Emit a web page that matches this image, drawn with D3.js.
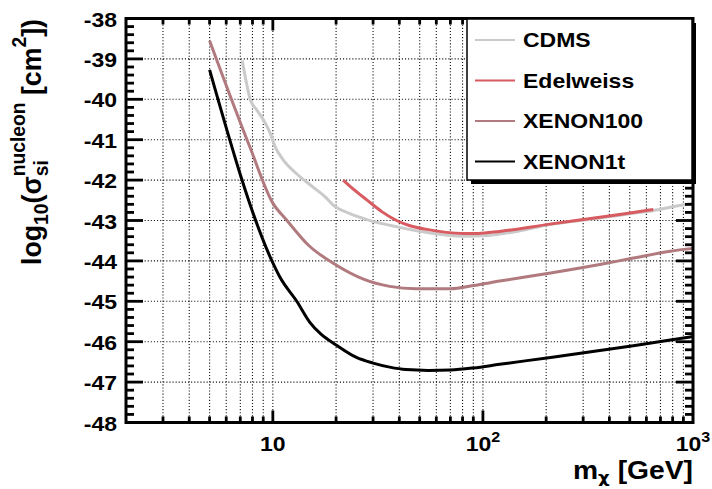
<!DOCTYPE html>
<html>
<head>
<meta charset="utf-8">
<script src="https://cdn.jsdelivr.net/npm/d3@7"></script>
<style>
  html, body { margin: 0; padding: 0; background: #fff; }
  svg { display: block; }
  text { font-family: "Liberation Sans", Arial, Helvetica, sans-serif; font-weight: bold; fill: #000; }
</style>
</head>
<body>
<svg id="chart" width="712" height="489"></svg>
<script>
// Spin-independent WIMP-nucleon exclusion limits.
// Mass in GeV, limit as log10 of the cross-section in cm^2.
const cdmsMass  = [7.15, 7.48, 7.8, 8.35, 9.0, 9.7, 10.25, 11.2, 12.9, 15.5, 17.8, 19.4, 23, 28, 40, 58, 84, 100, 145, 208, 360, 520, 650, 800, 1000];
const cdmsSigma = [-39.04, -39.58, -40.0, -40.25, -40.5, -40.83, -41.17, -41.5, -41.83, -42.17, -42.42, -42.62, -42.82, -42.98, -43.17, -43.32, -43.39, -43.38, -43.27, -43.1, -42.94, -42.82, -42.75, -42.66, -42.58];

const edelweissMass  = [21.6, 24.5, 28, 33, 38.8, 45, 54, 80, 95, 120, 208, 360, 520, 647];
const edelweissSigma = [-42.0, -42.25, -42.49, -42.78, -43.0, -43.13, -43.22, -43.32, -43.32, -43.27, -43.09, -42.92, -42.8, -42.73];

const xenon100Mass  = [5, 7.8, 10, 11.6, 14.7, 20, 27, 36, 48, 70, 90, 120, 210, 360, 520, 780, 1000];
const xenon100Sigma = [-38.55, -41.2, -42.57, -42.98, -43.6, -44.1, -44.45, -44.63, -44.69, -44.69, -44.61, -44.5, -44.3, -44.09, -43.93, -43.76, -43.69];

const xenon1tMass  = [5, 10, 10.8, 13, 15, 17, 20, 25, 30, 36, 43, 55, 70, 90, 120, 210, 360, 520, 780, 1000];
const xenon1tSigma = [-39.27, -44.05, -44.4, -45.0, -45.52, -45.82, -46.08, -46.39, -46.53, -46.63, -46.69, -46.71, -46.7, -46.65, -46.56, -46.39, -46.22, -46.1, -45.96, -45.87];

const seriesNames = ["CDMS", "Edelweiss", "XENON100", "XENON1t"];

// Axis ticks
const xMinorTicks = [3, 4, 5, 6, 7, 8, 9, 20, 30, 40, 50, 60, 70, 80, 90, 200, 300, 400, 500, 600, 700, 800, 900];
const xMajorTicks = [10, 100, 1000];
const xTickBase = ["10", "10", "10"];
const xTickExp = ["", "2", "3"];
const yMajorTicks = [-48, -47, -46, -45, -44, -43, -42, -41, -40, -39, -38];

// Styling
const lineColors = { "CDMS": "#cacaca", "Edelweiss": "#d85b61", "XENON100": "#b07a7e", "XENON1t": "#000000" };

const series = [
  { name: "CDMS", mass: cdmsMass, sigma: cdmsSigma },
  { name: "Edelweiss", mass: edelweissMass, sigma: edelweissSigma },
  { name: "XENON100", mass: xenon100Mass, sigma: xenon100Sigma },
  { name: "XENON1t", mass: xenon1tMass, sigma: xenon1tSigma }
].map(s => ({ name: s.name, points: s.mass.map((m, i) => [m, s.sigma[i]]) }));

const svg = d3.select("#chart");
const frame = { left: 126, right: 693, top: 18.5, bottom: 422.5 };

const x = d3.scaleLog().domain([2, 1000]).range([frame.left, frame.right]);
const y = d3.scaleLinear().domain([-48, -38]).range([frame.bottom, frame.top]);

// Dotted grid
const grid = svg.append("g").attr("stroke", "#111").attr("stroke-width", 1.1).attr("stroke-dasharray", "1.1,2");
grid.selectAll("line.v").data(xMinorTicks.concat([10, 100])).join("line")
  .attr("x1", d => x(d)).attr("x2", d => x(d))
  .attr("y1", frame.top).attr("y2", frame.bottom);
grid.selectAll("line.h").data(yMajorTicks.filter(v => v > -48 && v < -38)).join("line")
  .attr("x1", frame.left).attr("x2", frame.right)
  .attr("y1", d => y(d)).attr("y2", d => y(d));

// Exclusion curves
const line = d3.line().x(d => x(d[0])).y(d => y(d[1])).curve(d3.curveMonotoneX);
svg.append("g").selectAll("path").data(series).join("path")
  .attr("d", d => line(d.points))
  .attr("fill", "none")
  .attr("stroke", d => lineColors[d.name])
  .attr("stroke-width", 3)
  .attr("stroke-linejoin", "round");

// Tick marks on all four sides
const ticks = svg.append("g").attr("stroke", "#000").attr("stroke-width", 2.8);
const xTickAll = xMinorTicks.map(v => ({ v, len: 6 })).concat(xMajorTicks.slice(0, 2).map(v => ({ v, len: 12 })));
ticks.selectAll("line.xb").data(xTickAll).join("line")
  .attr("x1", d => x(d.v)).attr("x2", d => x(d.v))
  .attr("y1", frame.bottom).attr("y2", d => frame.bottom - d.len);
ticks.selectAll("line.xt").data(xTickAll).join("line")
  .attr("x1", d => x(d.v)).attr("x2", d => x(d.v))
  .attr("y1", frame.top).attr("y2", d => frame.top + d.len);
const yTickAll = d3.range(0, 51).map(i => -48 + i * 0.2).map(v => ({ v, len: Math.abs(v - Math.round(v)) < 1e-6 ? 17 : 8 }));
ticks.selectAll("line.yl").data(yTickAll).join("line")
  .attr("x1", frame.left).attr("x2", d => frame.left + d.len)
  .attr("y1", d => y(d.v)).attr("y2", d => y(d.v));
ticks.selectAll("line.yr").data(yTickAll).join("line")
  .attr("x1", frame.right).attr("x2", d => frame.right - d.len)
  .attr("y1", d => y(d.v)).attr("y2", d => y(d.v));

// Frame
svg.append("rect")
  .attr("x", frame.left).attr("y", frame.top)
  .attr("width", frame.right - frame.left).attr("height", frame.bottom - frame.top)
  .attr("fill", "none").attr("stroke", "#000").attr("stroke-width", 3);

// Lays out text with sub/superscripts in a group; returns the group and its advance width
function richText(parent, pieces, base, small) {
  const g = parent.append("g");
  let cx = 0;
  pieces.forEach(p => {
    if (p.stack) {
      const w = p.stack.map(s => g.append("text")
        .attr("x", cx).attr("y", s.shift)
        .style("font-size", small + "px").text(s.t).node().getComputedTextLength());
      cx += Math.max(...w);
    } else {
      const el = g.append("text")
        .attr("x", cx).attr("y", p.shift || 0)
        .style("font-size", (p.small ? small : base) + "px").text(p.t);
      if (p.family) el.style("font-family", p.family);
      cx += el.node().getComputedTextLength();
    }
  });
  return { g, width: cx };
}

// Y tick labels
const yLab = svg.append("g");
yMajorTicks.forEach(v => {
  const r = richText(yLab, [{ t: String(v) }], 20, 14);
  r.g.attr("transform", `translate(117,${y(v) + 8}) scale(1.15,1) translate(${-r.width},0)`);
});

// X tick labels
const xLab = svg.append("g");
xMajorTicks.forEach((v, i) => {
  const pieces = [{ t: xTickBase[i] }];
  if (xTickExp[i]) pieces.push({ t: xTickExp[i], small: true, shift: -9 });
  const r = richText(xLab, pieces, 20, 14);
  r.g.attr("transform", `translate(${x(v)},451) scale(1.15,1) translate(${-r.width / 2},0)`);
});

// X axis title
const xt = richText(svg, [
  { t: "m" },
  { t: "\u03c7", small: true, shift: 4, family: "'DejaVu Sans', sans-serif" },
  { t: "\u00a0[GeV]" }
], 25, 16);
xt.g.attr("transform", `translate(693,479) scale(${120 / xt.width},1) translate(${-xt.width},0)`);

// Y axis title, rotated
const yWrap = svg.append("g");
const yt = richText(yWrap, [
  { t: "log" },
  { t: "10", small: true, shift: 6 },
  { t: "(\u03c3" },
  { stack: [{ t: "si", shift: 6 }, { t: "nucleon", shift: -14 }] },
  { t: "\u00a0[cm" },
  { t: "2", small: true, shift: -13 },
  { t: "])" }
], 25, 18);
yWrap.attr("transform", `translate(41,265) rotate(-90) scale(${246 / yt.width},1.12)`);

// Legend with drop shadow
const lg = { x: 467, y: 19, w: 225, h: 161 };
svg.append("rect").attr("x", lg.x + 4).attr("y", lg.y + 4).attr("width", lg.w).attr("height", lg.h).attr("fill", "#000");
svg.append("rect").attr("x", lg.x).attr("y", lg.y).attr("width", lg.w).attr("height", lg.h)
  .attr("fill", "#fff").attr("stroke", "#000").attr("stroke-width", 1.5);
const rowY = d3.scalePoint().domain(seriesNames).range([40, 161.5]);
const entries = svg.append("g").selectAll("g").data(seriesNames).join("g")
  .attr("transform", d => `translate(0,${rowY(d)})`);
entries.append("line").attr("x1", 475).attr("x2", 515).attr("y1", 0).attr("y2", 0)
  .attr("stroke", d => lineColors[d]).attr("stroke-width", 2.2);
entries.append("text").attr("transform", "translate(523,7) scale(1.15,1)")
  .style("font-size", "20px").text(d => d);
</script>
</body>
</html>
